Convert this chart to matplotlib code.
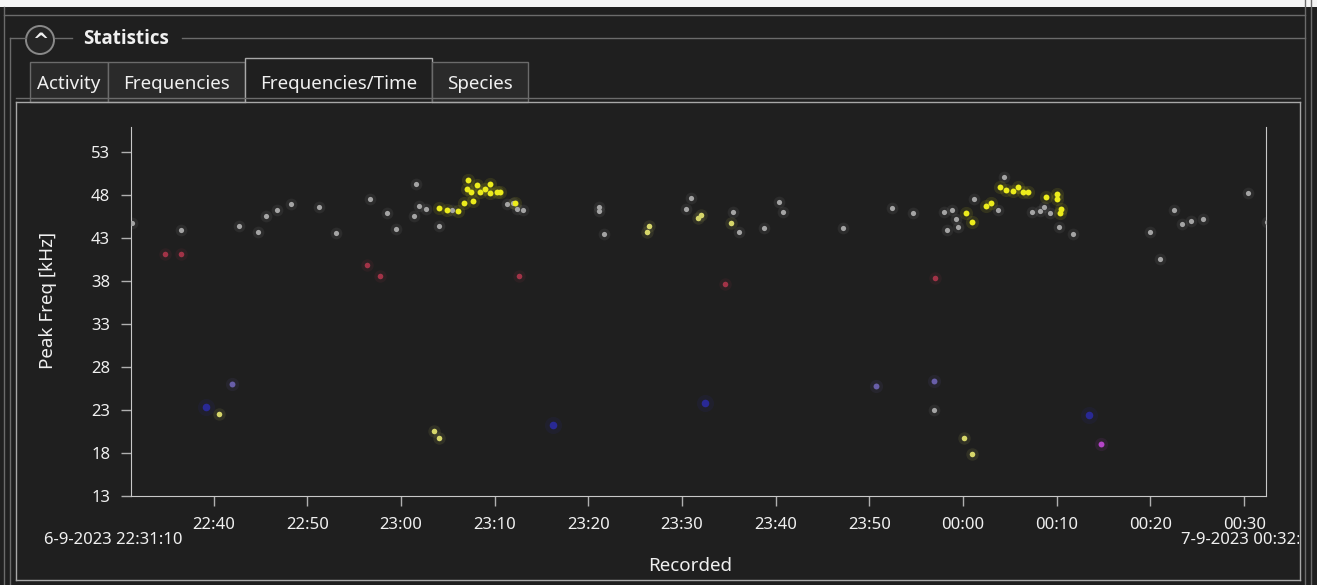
import pandas as pd
import numpy as np
import matplotlib
matplotlib.use('Agg')
import matplotlib.pyplot as plt
import matplotlib.dates as mdates
from matplotlib.lines import Line2D
from matplotlib.patches import Rectangle, Ellipse
from matplotlib.transforms import Bbox

plt.rcParams['font.family'] = ['Noto Sans', 'DejaVu Sans']

# minutes after 6-9-2023 22:00, peak frequency in kHz
gray_min = [31.3, 36.5, 42.7, 44.7, 45.6, 46.8, 48.2, 51.2, 53.1, 56.7, 58.5, 59.5,
            61.6, 61.4, 61.9, 62.7, 64.0, 65.4, 71.3, 72.0, 72.4, 73.0, 81.1, 81.1,
            81.7, 90.4, 90.9, 95.4, 96.1, 98.7, 100.3, 100.8, 107.2, 112.4, 114.6,
            118.0, 118.8, 119.2, 118.3, 119.5, 121.2, 123.7, 124.4, 127.4, 128.2,
            128.6, 129.3, 130.2, 131.7, 140.0, 141.0, 142.5, 143.4, 144.3, 145.6,
            150.4, 152.4, 116.9]
gray_khz = [44.7, 43.9, 44.4, 43.7, 45.5, 46.2, 46.9, 46.6, 43.6, 47.5, 45.9, 44.0,
            49.3, 45.5, 46.7, 46.4, 44.4, 46.3, 46.9, 47.1, 46.4, 46.2, 46.6, 46.1,
            43.5, 46.4, 47.6, 46.0, 43.7, 44.1, 47.2, 46.0, 44.1, 46.5, 45.9,
            46.0, 46.2, 45.2, 43.9, 44.3, 47.5, 46.3, 50.1, 46.0, 46.1,
            46.6, 45.9, 44.3, 43.5, 43.7, 40.6, 46.3, 44.6, 45.0, 45.2,
            48.2, 44.8, 23.0]

yellow_min = [64.1, 64.9, 66.1, 66.7, 67.7, 67.1, 67.0, 68.1, 68.45, 69.0, 69.5, 69.5,
              70.2, 70.6, 72.2, 67.5, 120.35, 120.96, 122.4, 122.96, 123.9, 124.6,
              125.35, 125.9, 126.4, 126.95, 128.9, 130.05, 130.0, 130.3, 130.5]
yellow_khz = [46.5, 46.2, 46.1, 47.1, 47.3, 49.75, 48.7, 49.2, 48.4, 48.7, 49.3, 48.2,
              48.3, 48.3, 47.1, 48.4, 45.9, 44.9, 46.7, 47.1, 48.9, 48.6,
              48.5, 48.9, 48.4, 48.4, 47.8, 48.1, 47.5, 45.9, 46.4]

khaki_min = [40.6, 63.5, 64.1, 86.2, 86.5, 91.7, 92.0, 95.2, 120.1, 120.9]
khaki_khz = [22.5, 20.6, 19.7, 43.7, 44.4, 45.3, 45.7, 44.7, 19.7, 17.9]

red_min = [34.8, 36.5, 56.4, 57.75, 72.6, 94.6, 117.0]
red_khz = [41.1, 41.1, 39.9, 38.6, 38.6, 37.6, 38.3]

blue_min = [39.2, 76.2, 92.4, 133.4]
blue_khz = [23.4, 21.2, 23.8, 22.4]

slate_min = [41.9, 110.7, 116.9]
slate_khz = [26.0, 25.8, 26.4]

magenta_min = [134.7]
magenta_khz = [19.0]

y_ticks = [13, 18, 23, 28, 33, 38, 43, 48, 53]
tabs = ['Activity', 'Frequencies', 'Frequencies/Time', 'Species']

t0 = pd.Timestamp('2023-09-06 22:00:00')
start = pd.Timestamp('2023-09-06 22:31:10')
end = pd.Timestamp('2023-09-07 00:32:20')


def to_time(mins):
    return t0 + pd.to_timedelta(np.array(mins), unit='min')


W, H = 1317, 585
bg = '#1f1f1f'
edge = '#6b6b6b'
txt = '#f0f0f0'


def fx(x):
    return x / W


def fy(y):
    return 1 - y / H


def hline(x0, x1, y, c=edge, lw=1.0):
    fig.add_artist(Line2D([fx(x0), fx(x1)], [fy(y), fy(y)], color=c, lw=lw,
                          transform=fig.transFigure))


def vline(x, y0, y1, c=edge, lw=1.0):
    fig.add_artist(Line2D([fx(x), fx(x)], [fy(y0), fy(y1)], color=c, lw=lw,
                          transform=fig.transFigure))


fig = plt.figure(figsize=(W / 100, H / 100), dpi=100, facecolor=bg)

# window chrome
fig.add_artist(Rectangle((0, fy(7)), 1, 7 / H, transform=fig.transFigure,
                         facecolor='#f4f4f4', edgecolor='none'))
hline(4, 1305, 15)
vline(4, 7, 585)
vline(1305, 0, 585)
vline(1311, 0, 585)
hline(10, 26, 38)
hline(55, 72, 38)
hline(182, 1305, 38)
vline(10, 38, 585)
fig.add_artist(Ellipse((fx(40), fy(40)), 28 / W, 28 / H, transform=fig.transFigure,
                       facecolor='#262626', edgecolor='#8a8a8a', lw=1.4))
fig.text(fx(40), fy(42), '^', color=txt, fontsize=14, fontweight='bold',
         family=['DejaVu Sans'], ha='center', va='center')
fig.text(fx(83), fy(39), 'Statistics', color=txt, fontsize=13.5,
         fontweight='bold', family=['Open Sans', 'DejaVu Sans'],
         ha='left', va='center')

# tabs
tab_x = [30, 108, 245, 432, 528]
for i, name in enumerate(tabs):
    x0, x1 = tab_x[i], tab_x[i + 1]
    sel = name == 'Frequencies/Time'
    top = 58 if sel else 62
    fc = '#1f1f1f' if sel else '#2a2a2a'
    ec = '#a8a8a8' if sel else edge
    fig.add_artist(Rectangle((fx(x0), fy(102)), (x1 - x0) / W, (102 - top) / H,
                             transform=fig.transFigure, facecolor=fc,
                             edgecolor=ec, lw=1.0))
    fig.text(fx((x0 + x1) / 2), fy(84), name, color=txt, fontsize=13.5,
             ha='center', va='center')

# panel border
hline(16, 245, 102, c='#a8a8a8')
hline(432, 1300, 102, c='#a8a8a8')
vline(16, 102, 580, c='#a8a8a8')
vline(1300, 102, 580, c='#a8a8a8')
hline(16, 1300, 580, c='#a8a8a8')
hline(16, 1300, 98)

# plot area
ax = fig.add_axes([fx(131), fy(496), (1266 - 131) / W, (496 - 127) / H])
ax.set_facecolor(bg)

groups = [
    (gray_min, gray_khz, '#a4a4a4', 14, 1.0),
    (red_min, red_khz, '#a8354a', 16, 0.95),
    (blue_min, blue_khz, '#2c2cb0', 30, 0.8),
    (slate_min, slate_khz, '#6c62b0', 18, 0.95),
    (magenta_min, magenta_khz, '#b545c8', 18, 1.0),
    (khaki_min, khaki_khz, '#d6d66a', 16, 1.0),
    (yellow_min, yellow_khz, '#ecec1c', 18, 1.0),
]
for mins, khz, col, s, a in groups:
    t = to_time(mins)
    ax.scatter(t, khz, s=s * 5, color=col, alpha=0.10, lw=0, zorder=2)
    ax.scatter(t, khz, s=s, color=col, alpha=a, lw=0, zorder=3)

ax.set_xlim(start, end)
ax.set_ylim(13, 55.9)
ax.set_yticks(y_ticks)
ax.xaxis.set_major_locator(mdates.MinuteLocator(byminute=range(0, 60, 10)))
ax.xaxis.set_major_formatter(mdates.DateFormatter('%H:%M'))

for side in ['left', 'bottom', 'right']:
    ax.spines[side].set_color('#c8c8c8')
ax.spines['top'].set_visible(False)
ax.tick_params(colors='#b0b0b0', labelcolor=txt, length=7, width=1,
               labelsize=12, direction='out')
ax.tick_params(axis='x', pad=8)
ax.tick_params(axis='y', pad=8)

ax.set_ylabel('Peak Freq [kHz]', color=txt, fontsize=13.5)
ax.yaxis.set_label_coords(-0.065, 0.53)
ax.set_xlabel('Recorded', color=txt, fontsize=13.5)
ax.xaxis.set_label_coords(0.4925, -0.165)

fig.text(fx(113), fy(540), start.strftime('%-d-%-m-%Y %H:%M:%S'), color=txt,
         fontsize=12, ha='center', va='center')
# end label is cut by the panel border, as in the application
rt = fig.text(fx(1181), fy(540), end.strftime('%-d-%-m-%Y %H:%M:%S'), color=txt,
              fontsize=12, ha='left', va='center')
rt.set_clip_box(Bbox([[0, 0], [1299, H]]))
rt.set_clip_on(True)

fig.savefig('out.png', dpi=100, facecolor=bg)
